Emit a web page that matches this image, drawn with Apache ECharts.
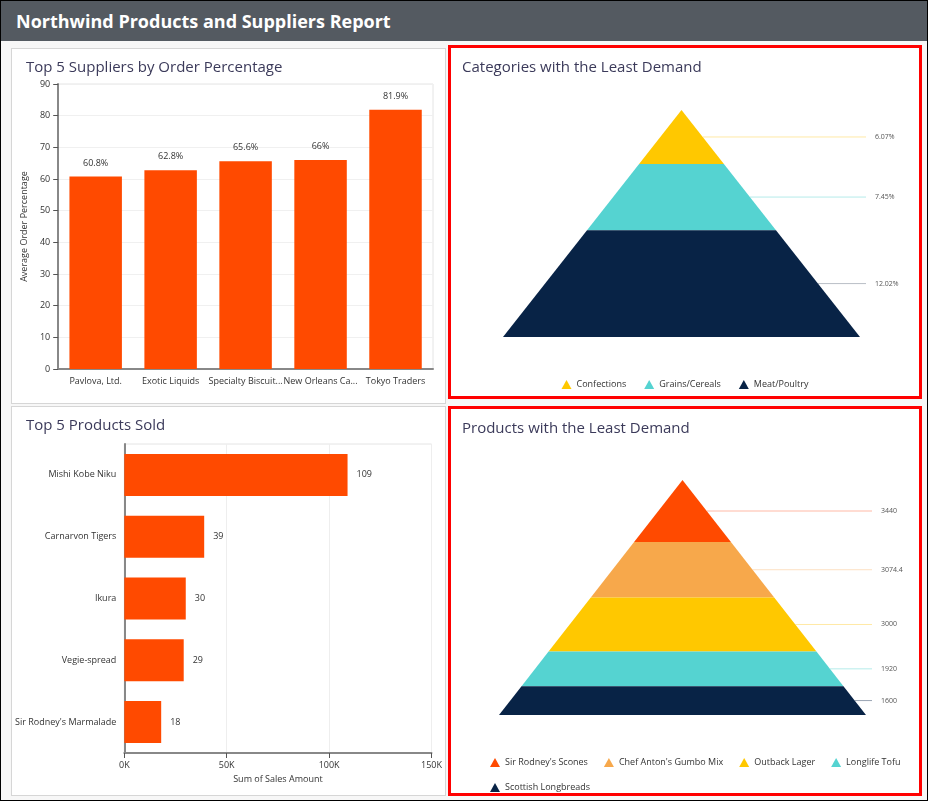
<!DOCTYPE html>
<html>
<head>
<meta charset="utf-8">
<script src="https://cdn.jsdelivr.net/npm/echarts@6/dist/echarts.min.js"></script>
<style>
  body { margin: 0; width: 928px; height: 801px; background: #fff; font-family: "Open Sans", sans-serif; }
  #page { position: absolute; left: 0; top: 0; width: 926px; height: 799px; border: 1px solid #000; background: #f7f7f7; }
  #header { position: absolute; left: 0; top: 0; width: 926px; height: 40px; background: #545a61; color: #fff;
    font-weight: bold; font-size: 18px; line-height: 40px; padding-left: 15px; box-sizing: border-box; }
  .panel { position: absolute; background: #fff; box-sizing: border-box; }
</style>
</head>
<body>
<div id="page">
  <div id="header">Northwind Products and Suppliers Report</div>
</div>
<div class="panel" id="c1" style="left:11px;top:48px;width:435px;height:356px;border:1px solid #d6d6d6"></div>
<div class="panel" id="c2" style="left:448px;top:45px;width:474px;height:354px;border:3px solid #f00"></div>
<div class="panel" id="c3" style="left:11px;top:406px;width:435px;height:390px;border:1px solid #d6d6d6"></div>
<div class="panel" id="c4" style="left:448px;top:406px;width:474px;height:390px;border:3px solid #f00"></div>
<script>
// data
let suppliers = ["Pavlova, Ltd.", "Exotic Liquids", "Specialty Biscuits, Ltd.", "New Orleans Cajun Delights", "Tokyo Traders"];
let orderPct = [60.8, 62.8, 65.6, 66, 81.9];

let products = ["Mishi Kobe Niku", "Carnarvon Tigers", "Ikura", "Vegie-spread", "Sir Rodney's Marmalade"];
let salesK = [109, 39, 30, 29, 18];

let categories = ["Confections", "Grains/Cereals", "Meat/Poultry"];
let categoryPct = [6.07, 7.45, 12.02];
let categoryColors = ["#ffc800", "#55d3d1", "#082346"];
let categoryLineColors = ["#ffe9a6", "#b5ecea", "#b9bec6"];

let leastProducts = ["Sir Rodney's Scones", "Chef Anton's Gumbo Mix", "Outback Lager", "Longlife Tofu", "Scottish Longbreads"];
let leastValues = [3440, 3074.4, 3000, 1920, 1600];
let productColors = ["#ff4a00", "#f7a84b", "#ffc800", "#55d3d1", "#082346"];
let productLineColors = ["#ffb9a6", "#fde0c2", "#ffe9a6", "#b5ecea", "#9aa5b4"];

let font = "Open Sans";
let titleStyle = { fontFamily: font, fontSize: 15, fontWeight: "normal", color: "#3b3a5a" };
let barColor = "#ff4a00";

// top suppliers
let chart1 = echarts.init(document.getElementById("c1"));
chart1.setOption({
  textStyle: { fontFamily: font },
  title: { text: "Top 5 Suppliers by Order Percentage", left: 9, top: 6, textStyle: titleStyle },
  grid: { left: 36, right: 12, top: 35, bottom: 34, show: true, borderColor: "#e4e4e4" },
  xAxis: {
    type: "category", data: suppliers,
    axisLine: { lineStyle: { color: "#888", width: 2 } },
    axisTick: { lineStyle: { color: "#555" } },
    axisLabel: { color: "#333", fontSize: 9, interval: 0, width: 77, overflow: "truncate" }
  },
  yAxis: {
    type: "value", min: 0, max: 90, interval: 10,
    name: "Average Order Percentage", nameLocation: "middle", nameGap: 22,
    nameTextStyle: { fontSize: 9, color: "#333" },
    axisLine: { show: true, lineStyle: { color: "#888", width: 2 } },
    axisTick: { show: true, lineStyle: { color: "#555" } },
    axisLabel: { color: "#333", fontSize: 9 },
    splitLine: { lineStyle: { color: "#f0f0f0" } }
  },
  series: [{
    type: "bar", data: orderPct, barWidth: "70%",
    itemStyle: { color: barColor },
    label: { show: true, position: "top", distance: 9, formatter: "{c}%", fontSize: 9, color: "#333" }
  }]
});

// top products
let chart3 = echarts.init(document.getElementById("c3"));
chart3.setOption({
  textStyle: { fontFamily: font },
  title: { text: "Top 5 Products Sold", left: 9, top: 6, textStyle: titleStyle },
  grid: { left: 105, right: 12, top: 37, bottom: 42, show: true, borderColor: "#e4e4e4" },
  xAxis: {
    type: "value", min: 0, max: 150, interval: 50,
    name: "Sum of Sales Amount", nameLocation: "middle", nameGap: 22,
    nameTextStyle: { fontSize: 9, color: "#333" },
    axisLine: { show: true, lineStyle: { color: "#888", width: 2 } },
    axisTick: { show: true, lineStyle: { color: "#555" } },
    axisLabel: { color: "#333", fontSize: 9, formatter: "{value}K" },
    splitLine: { lineStyle: { color: "#eee" } }
  },
  yAxis: {
    type: "category", data: products, inverse: true,
    axisLine: { lineStyle: { color: "#888", width: 2 } },
    axisTick: { lineStyle: { color: "#555" } },
    axisLabel: { color: "#333", fontSize: 9 }
  },
  series: [{
    type: "bar", data: salesK, barCategoryGap: "32%",
    itemStyle: { color: barColor },
    label: { show: true, position: "right", distance: 9, fontSize: 9, color: "#333" }
  }]
});

// pyramid helper: segment heights proportional to values
function pyramidOption(title, names, values, colors, lineColors, grid, legend, labelFmt) {
  let total = values.reduce((a, b) => a + b, 0);
  let cum = 0;
  let series = names.map((n, i) => {
    let start = cum;
    cum += values[i];
    return {
      type: "custom", name: n, coordinateSystem: "cartesian2d",
      itemStyle: { color: colors[i] },
      data: [[start, cum, values[i]]],
      encode: { y: [0, 1] },
      renderItem: function (params, api) {
        let y0 = api.value(0), y1 = api.value(1);
        let p0l = api.coord([-y0 / total, y0]), p0r = api.coord([y0 / total, y0]);
        let p1l = api.coord([-y1 / total, y1]), p1r = api.coord([y1 / total, y1]);
        let ym = (y0 + y1) / 2;
        let pm = api.coord([ym / total, ym]);
        let pend = api.coord([1, ym]);
        return {
          type: "group",
          children: [
            { type: "line", shape: { x1: pm[0], y1: pm[1], x2: pend[0] + 6, y2: pm[1] },
              style: { stroke: lineColors[i], lineWidth: 1 } },
            { type: "polygon", shape: { points: [p0l, p0r, p1r, p1l] },
              style: { fill: colors[i] } },
            { type: "text", x: pend[0] + 15, y: pm[1],
              style: { text: labelFmt(values[i]), fill: "#555", fontSize: 7, fontFamily: font, verticalAlign: "middle" } }
          ]
        };
      }
    };
  });
  return {
    textStyle: { fontFamily: font },
    title: { text: title, left: 6, top: 7, textStyle: titleStyle },
    color: colors,
    grid: grid,
    legend: Object.assign({ icon: "triangle", itemWidth: 10, itemHeight: 9, itemGap: 18,
      textStyle: { fontSize: 9, color: "#333" }, data: names }, legend),
    xAxis: { type: "value", min: -1, max: 1, show: false },
    yAxis: { type: "value", min: 0, max: total, inverse: true, show: false },
    series: series
  };
}

let chart2 = echarts.init(document.getElementById("c2"));
chart2.setOption(pyramidOption("Categories with the Least Demand", categories, categoryPct,
  categoryColors, categoryLineColors,
  { left: 52, top: 62, width: 357, height: 227 },
  { left: "center", top: 327 },
  v => v + "%"));

let chart4 = echarts.init(document.getElementById("c4"));
chart4.setOption(pyramidOption("Products with the Least Demand", leastProducts, leastValues,
  productColors, productLineColors,
  { left: 48, top: 71, width: 367, height: 235 },
  { left: 34, top: 344, width: 420, itemGap: 16 },
  v => String(v)));
</script>
</body>
</html>
